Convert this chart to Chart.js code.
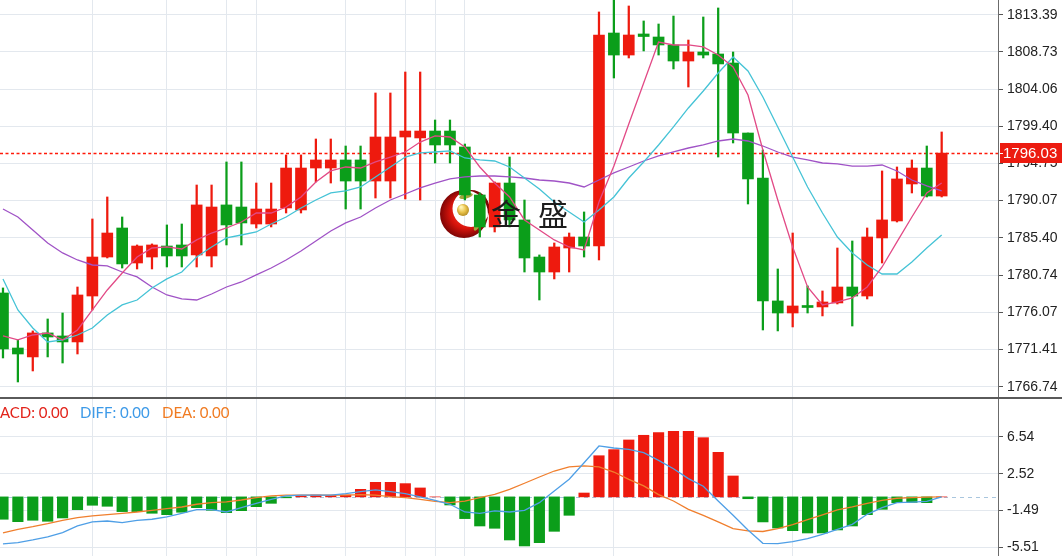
<!DOCTYPE html>
<html><head><meta charset="utf-8">
<script src="https://cdn.jsdelivr.net/npm/chart.js@4.4.0/dist/chart.umd.min.js"></script>
<style>
html,body{margin:0;padding:0;background:#fff;width:1062px;height:556px;overflow:hidden}
#top{position:absolute;left:0;top:0;width:1062px;height:398px}
#bot{position:absolute;left:0;top:399px;width:1062px;height:157px}
#sep{position:absolute;left:0;top:397px;width:1062px;height:2px;background:#5a5a5a}
</style></head><body>
<div id="top"><canvas id="c1" width="1062" height="398"></canvas></div>
<div id="bot"><canvas id="c2" width="1062" height="157"></canvas></div>
<div id="sep"></div>
<script>
// ---- price candles (one per bar, left to right) ----
const opens  = [1778.49,1771.59,1770.47,1773.48,1773.10,1772.35,1778.11,1783.00,1786.64,1782.25,1783.00,1784.38,1784.51,1783.26,1783.13,1789.53,1789.27,1787.14,1787.14,1789.15,1788.90,1794.16,1794.16,1795.17,1795.17,1792.53,1792.53,1798.05,1797.93,1798.80,1798.80,1796.80,1790.78,1786.77,1792.28,1787.65,1783.00,1781.12,1784.13,1785.51,1784.38,1811.09,1808.33,1810.97,1810.59,1809.59,1807.58,1808.71,1808.46,1807.33,1798.55,1792.91,1777.49,1775.98,1776.92,1776.74,1777.24,1779.24,1778.11,1785.39,1787.52,1792.16,1794.16,1790.65];
const highs  = [1779.12,1772.60,1773.73,1775.23,1775.98,1779.24,1787.77,1790.53,1788.02,1784.51,1784.64,1787.02,1787.14,1792.03,1792.03,1794.92,1794.92,1792.28,1792.28,1795.80,1795.80,1797.80,1797.80,1796.92,1796.92,1803.57,1803.57,1806.20,1806.20,1800.18,1800.18,1797.17,1791.03,1792.41,1795.54,1790.15,1783.26,1784.76,1786.01,1788.65,1813.73,1816.00,1814.48,1812.60,1812.22,1813.22,1810.21,1813.10,1814.23,1808.71,1798.55,1796.42,1781.50,1786.01,1779.37,1778.74,1784.13,1785.01,1786.64,1793.79,1794.29,1795.17,1796.92,1798.68];
const lows   = [1770.34,1767.33,1768.71,1770.47,1769.71,1770.84,1776.36,1782.88,1781.62,1781.50,1781.50,1781.75,1781.75,1781.75,1781.75,1784.51,1784.51,1786.64,1786.77,1788.52,1788.52,1792.41,1792.28,1789.02,1789.02,1790.40,1790.40,1790.28,1790.15,1794.79,1794.79,1790.15,1785.51,1786.14,1786.77,1781.12,1777.61,1780.25,1781.12,1783.00,1782.63,1805.45,1807.96,1808.84,1808.33,1806.58,1804.32,1807.96,1795.54,1797.30,1789.65,1773.85,1773.73,1774.23,1775.98,1775.61,1777.11,1774.35,1777.74,1782.25,1787.39,1791.03,1790.53,1790.53];
const closes = [1771.47,1770.84,1773.48,1772.97,1772.35,1778.24,1783.00,1786.01,1782.13,1784.38,1784.51,1783.13,1783.13,1789.53,1789.27,1787.02,1787.27,1789.02,1789.02,1794.16,1794.16,1795.17,1795.17,1792.53,1792.53,1798.05,1798.05,1798.80,1798.80,1797.05,1797.05,1790.78,1786.77,1792.28,1787.65,1782.88,1781.12,1784.26,1785.51,1784.38,1810.84,1808.33,1810.84,1810.65,1809.59,1807.58,1808.71,1808.33,1807.21,1798.55,1792.79,1777.49,1775.98,1776.86,1776.67,1777.36,1779.24,1778.11,1785.51,1787.65,1792.79,1794.16,1790.65,1796.03];
// ---- moving average lines ----
const ma5  = [1773.10,1772.60,1773.22,1773.47,1772.60,1773.85,1776.36,1778.87,1781.00,1783.00,1784.13,1784.26,1784.01,1785.14,1786.01,1786.64,1787.39,1788.52,1788.52,1789.27,1790.53,1792.41,1793.79,1794.29,1794.16,1794.92,1795.54,1796.17,1797.42,1798.18,1798.05,1796.80,1794.29,1792.28,1790.53,1787.65,1786.39,1785.14,1784.26,1783.88,1789.90,1794.41,1799.68,1804.82,1809.96,1809.59,1809.59,1809.34,1808.33,1806.83,1803.32,1796.42,1790.15,1784.26,1779.24,1776.99,1777.36,1777.86,1779.24,1781.75,1784.89,1788.02,1791.03,1792.28];
const ma10 = [1780.25,1776.36,1774.10,1772.35,1772.60,1773.22,1774.10,1775.73,1776.99,1777.61,1779.12,1780.25,1781.12,1783.00,1784.26,1785.39,1785.76,1786.14,1787.14,1788.02,1789.15,1790.15,1791.03,1791.28,1791.78,1793.04,1794.29,1795.54,1796.05,1796.17,1796.30,1795.42,1795.17,1795.04,1794.29,1792.91,1791.53,1789.90,1788.65,1787.39,1788.90,1790.53,1792.91,1794.92,1797.05,1799.31,1801.69,1803.82,1806.08,1808.08,1806.33,1803.07,1799.31,1795.54,1791.78,1788.52,1785.51,1783.51,1782.00,1780.87,1780.87,1782.38,1784.13,1785.76];
const ma20 = [1789.02,1788.02,1786.39,1784.76,1783.51,1782.63,1782.00,1781.88,1781.12,1780.50,1779.24,1778.24,1777.74,1777.61,1778.36,1779.24,1779.87,1780.75,1781.62,1782.63,1783.76,1785.01,1786.27,1787.27,1788.02,1789.15,1790.15,1790.90,1791.66,1792.28,1792.79,1793.04,1793.16,1793.16,1793.04,1792.91,1792.66,1792.53,1792.28,1791.78,1792.66,1793.54,1794.29,1795.04,1795.67,1796.17,1796.67,1797.05,1797.55,1797.80,1797.55,1796.92,1796.17,1795.54,1795.17,1794.79,1794.67,1794.41,1794.41,1794.54,1793.79,1792.66,1791.91,1791.28];
const lastPrice = 1796.03;
const lastPriceLabel = '1796.03';
// ---- MACD panel ----
const macdHist = [-2.43,-2.69,-2.54,-2.65,-2.29,-1.39,-0.91,-1.02,-1.60,-1.60,-1.78,-1.93,-1.67,-1.17,-1.46,-1.71,-1.50,-1.06,-0.70,-0.10,0.10,0.20,0.15,0.20,0.82,1.58,1.58,1.44,0.97,0.00,-0.88,-2.36,-3.16,-3.41,-4.68,-5.33,-4.97,-3.74,-2.00,0.42,4.47,5.13,6.18,6.69,6.97,7.12,7.12,6.43,4.84,2.27,-0.20,-2.72,-3.38,-3.67,-3.92,-3.92,-3.59,-3.16,-1.93,-1.35,-0.63,-0.60,-0.63,0];
const diffLine = [-5.10,-4.97,-4.68,-4.35,-3.88,-3.16,-2.72,-2.62,-2.80,-2.54,-2.43,-2.18,-1.78,-1.39,-1.39,-1.64,-1.17,-0.70,-0.26,0.10,0.20,0.20,0.20,0.35,0.57,0.75,0.57,0.35,-0.01,-0.37,-0.80,-1.64,-1.78,-1.53,-1.64,-1.46,-0.63,0.64,1.91,3.71,5.53,5.31,5.17,4.80,3.97,3.06,1.98,1.15,-0.45,-2.00,-3.60,-5.04,-5.08,-4.86,-4.54,-4.06,-3.52,-2.98,-1.89,-1.17,-0.63,-0.56,-0.48,0];
const deaLine  = [-3.92,-3.52,-3.24,-2.91,-2.54,-2.26,-2.07,-1.93,-1.78,-1.64,-1.46,-1.28,-1.10,-0.80,-0.63,-0.55,-0.34,-0.09,0.10,0.20,0.20,0.20,0.20,0.20,0.24,0.20,0.02,-0.09,-0.26,-0.48,-0.63,-0.45,-0.09,0.28,0.82,1.48,2.16,2.81,3.25,3.36,3.25,2.70,1.91,1.20,0.24,-0.45,-1.35,-2.00,-2.72,-3.45,-3.70,-3.76,-3.45,-3.00,-2.46,-1.95,-1.42,-1.08,-0.70,-0.37,-0.15,-0.09,-0.03,0];
// ---- axes ----
const priceTicks  = [1766.74,1771.41,1776.07,1780.74,1785.40,1790.07,1794.75,1799.40,1804.06,1808.73,1813.39];
const priceLabels = ['1766.74','1771.41','1776.07','1780.74','1785.40','1790.07','1794.75','1799.40','1804.06','1808.73','1813.39'];
const macdTicks   = [-5.51,-1.49,2.52,6.54];
const macdLabels  = ['-5.51','-1.49','2.52','6.54'];
const gridBars    = [6,11,15,17,23,27,29,31,41,53];
const legendItems = [['MACD: 0.00','#e2231a'],['DIFF: 0.00','#3d9ae8'],['DEA: 0.00','#f07b22']];

const RED='#ee1a0e', GREEN='#0b9e1a', GRID='#e3e8ee';
const idx = opens.map((_,i)=>i);
const candleColor = idx.map(i => closes[i]>=opens[i] ? RED : GREEN);
const pts = a => a.map((v,i)=>({x:i,y:v}));
const noPad = s => { s.paddingTop=0; s.paddingBottom=0; s.paddingLeft=0; s.paddingRight=0; };

function xScale(){
  return {type:'linear', min:-0.2, max:66.78, offset:false,
    afterBuildTicks: a => { a.ticks = gridBars.map(v=>({value:v})); },
    ticks:{display:false},
    grid:{color:GRID, lineWidth:1, drawTicks:false, offset:false},
    border:{display:false},
    afterFit: s => { s.height=0; noPad(s); }};
}
function yScale(min,max,ticks,labels){
  return {position:'right', min, max,
    afterBuildTicks: a => { a.ticks = ticks.map(v=>({value:v})); },
    ticks:{autoSkip:false, padding:4, color:'#222', font:{family:'Liberation Sans', size:14},
      callback:(v,i)=>labels[i]},
    grid:{color:GRID, tickLength:5, tickColor:'#555', drawTicks:true},
    border:{color:'#6b6b6b', width:1},
    afterFit: s => { s.width=64; noPad(s); }};
}
const lineDs = (data,color) => ({type:'line', data:pts(data), borderColor:color, borderWidth:1.3,
  pointRadius:0, pointHoverRadius:0, fill:false, tension:0, order:0});

function drawCrescent(ctx){
  ctx.save();
  const cx=464, cy=214, R=24;
  const g = ctx.createRadialGradient(cx+6, cy-4, 4, cx, cy, R);
  g.addColorStop(0,'#ff4a38'); g.addColorStop(0.6,'#d8140c'); g.addColorStop(1,'#7e0505');
  ctx.beginPath();
  ctx.arc(cx,cy,R,0,Math.PI*2);
  ctx.arc(471,208.5,18.5,0,Math.PI*2,true);
  ctx.fillStyle=g; ctx.fill('evenodd');
  ctx.fillStyle='#a3a63c';
  ctx.beginPath(); ctx.ellipse(466,196,7,2.6,-0.25,0,Math.PI*2); ctx.fill();
  ctx.beginPath(); ctx.ellipse(478,224,2.6,7.5,0.5,0,Math.PI*2); ctx.fill();
  const gb = ctx.createRadialGradient(461,207,1,463,210,7);
  gb.addColorStop(0,'#fff3b0'); gb.addColorStop(0.5,'#e8c24a'); gb.addColorStop(1,'#a8811c');
  ctx.beginPath(); ctx.arc(463,210,6,0,Math.PI*2); ctx.fillStyle=gb; ctx.fill();
  ctx.restore();
}
function drawBrandText(ctx){
  ctx.save();
  ctx.fillStyle='#1c1c1c';
  ctx.font='30px "Noto Sans CJK SC"';
  ctx.textBaseline='middle'; ctx.textAlign='left';
  ctx.fillText('金',491,214);
  ctx.fillText('盛',538,214);
  ctx.restore();
}

const pricePlugin = {
  id:'pricePlugin',
  beforeDatasetsDraw(c){
    const {ctx, chartArea:a, scales:{y}} = c;
    const py = Math.round(y.getPixelForValue(lastPrice))+0.5;
    ctx.save(); ctx.strokeStyle='#ff1a0a'; ctx.lineWidth=1.4; ctx.setLineDash([3,2.5]);
    ctx.beginPath(); ctx.moveTo(a.left,py); ctx.lineTo(a.right,py); ctx.stroke(); ctx.restore();
    drawCrescent(ctx);
  },
  afterDatasetsDraw(c){ drawBrandText(c.ctx); },
  afterDraw(c){
    const {ctx, chartArea:a, scales:{y}} = c;
    const py = Math.round(y.getPixelForValue(lastPrice));
    ctx.save();
    ctx.fillStyle='#ec1b10';
    ctx.fillRect(a.right+2, py-10, c.width-a.right-2, 20);
    ctx.strokeStyle='#fff'; ctx.lineWidth=1;
    ctx.beginPath(); ctx.moveTo(a.right+2,py+0.5); ctx.lineTo(a.right+5,py+0.5); ctx.stroke();
    ctx.fillStyle='#fff'; ctx.font='15px "Liberation Sans"'; ctx.textBaseline='middle'; ctx.textAlign='left';
    ctx.fillText(lastPriceLabel, a.right+5, py+1);
    ctx.restore();
  }
};

new Chart(document.getElementById('c1'), {
  type:'bar',
  data:{datasets:[
    lineDs(ma5,'#e24a86'),
    lineDs(ma10,'#45c3d6'),
    lineDs(ma20,'#a053c6'),
    {type:'bar', data: idx.map(i=>({x:i,y:[opens[i],closes[i]]})), backgroundColor:candleColor,
      barThickness:11, grouped:false, minBarLength:1.5, borderWidth:0, order:1},
    {type:'bar', data: idx.map(i=>({x:i,y:[lows[i],highs[i]]})), backgroundColor:candleColor,
      barThickness:1.6, grouped:false, borderWidth:0, order:2}
  ]},
  options:{responsive:false, animation:false, events:[], layout:{padding:0},
    plugins:{legend:{display:false}, tooltip:{enabled:false}},
    scales:{x:xScale(), y:yScale(1765.32,1815.23,priceTicks,priceLabels)}},
  plugins:[pricePlugin]
});

const macdPlugin = {
  id:'macdPlugin',
  beforeDatasetsDraw(c){
    const {ctx, chartArea:a, scales:{y}} = c;
    const py = Math.round(y.getPixelForValue(0))+0.5;
    ctx.save(); ctx.strokeStyle='#a9c6de'; ctx.lineWidth=1; ctx.setLineDash([4,4]);
    ctx.beginPath(); ctx.moveTo(a.left,py); ctx.lineTo(a.right,py); ctx.stroke(); ctx.restore();
  },
  afterDraw(c){
    const ctx=c.ctx; ctx.save();
    ctx.font='15px Lato'; ctx.textBaseline='middle'; ctx.textAlign='left';
    const xs=[-14,80,162];
    legendItems.forEach((it,k)=>{ ctx.fillStyle=it[1]; ctx.fillText(it[0], xs[k], 14); });
    ctx.restore();
  }
};

new Chart(document.getElementById('c2'), {
  type:'bar',
  data:{datasets:[
    lineDs(diffLine,'#4f9fe6'),
    lineDs(deaLine,'#f07f2e'),
    {type:'bar', data: pts(macdHist), backgroundColor: macdHist.map(v=> v>=0?RED:GREEN),
      barThickness:10.5, grouped:false, borderWidth:0, order:1}
  ]},
  options:{responsive:false, animation:false, events:[], layout:{padding:0},
    plugins:{legend:{display:false}, tooltip:{enabled:false}},
    scales:{x:xScale(), y:yScale(-6.42,10.63,macdTicks,macdLabels)}},
  plugins:[macdPlugin]
});
</script>
</body></html>
